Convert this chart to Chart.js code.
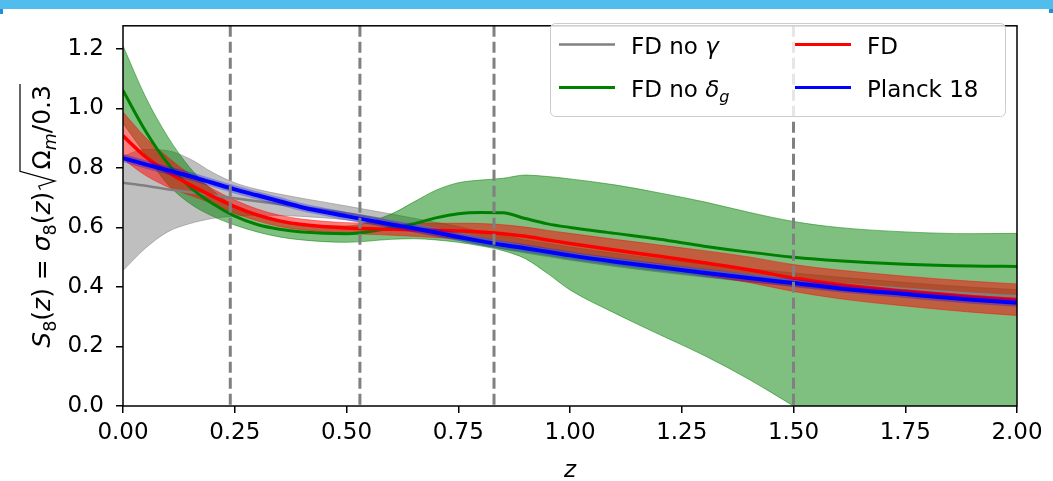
<!DOCTYPE html>
<html>
<head>
<meta charset="utf-8">
<script src="https://cdn.jsdelivr.net/npm/chart.js@4.4.1/dist/chart.umd.min.js"></script>
<style>
  html, body { margin: 0; padding: 0; background: #fff; overflow: hidden; }
  #wrap { position: relative; width: 1053px; height: 481px; }
  #c { position: absolute; left: 0; top: 0; }
  #topbar { position: absolute; left: 0; top: 0; width: 1053px; height: 9px; background: #50bdec; }
  #tabL { position: absolute; left: 0; top: 9px; width: 3px; height: 5px; background: #1f8fd6; }
  #tabR { position: absolute; left: 1049px; top: 9px; width: 4px; height: 4px; background: #1f8fd6; }
</style>
</head>
<body>
<div id="wrap">
  <canvas id="c" width="1053" height="481"></canvas>
  <div id="topbar"></div><div id="tabL"></div><div id="tabR"></div>
</div>
<script>
// Redshift grid shared by all curves
const zGrid = [0, 0.05, 0.1, 0.15, 0.2, 0.25, 0.3, 0.35, 0.4, 0.5, 0.6, 0.65, 0.7, 0.75,
               0.8, 0.85, 0.9, 0.95, 1.0, 1.1, 1.2, 1.3, 1.4, 1.5, 1.6, 1.75, 1.9, 2.0];

// FD no gamma: mean and band
const fdNoGamma   = [0.750, 0.740, 0.728, 0.718, 0.708, 0.698, 0.688, 0.678, 0.668, 0.648, 0.622, 0.608, 0.594, 0.580,
                     0.563, 0.549, 0.536, 0.524, 0.512, 0.491, 0.472, 0.455, 0.439, 0.425, 0.411, 0.393, 0.377, 0.369];
const fdNoGammaHi = [0.840, 0.862, 0.858, 0.830, 0.785, 0.750, 0.728, 0.712, 0.698, 0.672, 0.645, 0.631, 0.617, 0.603,
                     0.586, 0.572, 0.558, 0.546, 0.534, 0.513, 0.494, 0.477, 0.461, 0.447, 0.433, 0.415, 0.399, 0.391];
const fdNoGammaLo = [0.455, 0.530, 0.585, 0.613, 0.630, 0.638, 0.641, 0.640, 0.637, 0.625, 0.600, 0.586, 0.572, 0.558,
                     0.541, 0.527, 0.514, 0.502, 0.490, 0.469, 0.450, 0.433, 0.417, 0.403, 0.389, 0.371, 0.355, 0.347];

// FD no delta_g: mean and band (lower edge runs below the axis past z = 1.5)
const fdNoDelta   = [1.060, 0.925, 0.815, 0.735, 0.680, 0.638, 0.610, 0.594, 0.585, 0.579, 0.598, 0.612, 0.632, 0.646,
                     0.650, 0.649, 0.630, 0.612, 0.600, 0.580, 0.560, 0.537, 0.517, 0.500, 0.488, 0.476, 0.470, 0.469];
const fdNoDeltaHi = [1.210, 1.040, 0.905, 0.800, 0.725, 0.672, 0.638, 0.618, 0.607, 0.605, 0.645, 0.685, 0.725, 0.750,
                     0.759, 0.765, 0.776, 0.771, 0.763, 0.743, 0.716, 0.686, 0.651, 0.620, 0.600, 0.585, 0.579, 0.580];
const fdNoDeltaLo = [0.950, 0.845, 0.745, 0.680, 0.638, 0.608, 0.585, 0.568, 0.558, 0.550, 0.560, 0.562, 0.558, 0.550,
                     0.538, 0.522, 0.495, 0.445, 0.390, 0.312, 0.240, 0.170, 0.090, 0.000, -0.090, -0.200, -0.290, -0.340];

// FD: mean and band
const fd   = [0.908, 0.838, 0.786, 0.743, 0.705, 0.670, 0.642, 0.622, 0.610, 0.598, 0.594, 0.592, 0.590, 0.588,
              0.585, 0.579, 0.570, 0.558, 0.546, 0.524, 0.503, 0.481, 0.458, 0.430, 0.409, 0.386, 0.367, 0.357];
const fdHi = [0.988, 0.903, 0.836, 0.778, 0.730, 0.692, 0.662, 0.641, 0.628, 0.616, 0.614, 0.614, 0.614, 0.614,
              0.613, 0.609, 0.601, 0.590, 0.580, 0.560, 0.541, 0.522, 0.501, 0.475, 0.457, 0.436, 0.419, 0.410];
const fdLo = [0.830, 0.775, 0.736, 0.708, 0.680, 0.648, 0.622, 0.603, 0.592, 0.580, 0.574, 0.570, 0.566, 0.562,
              0.557, 0.549, 0.539, 0.526, 0.512, 0.488, 0.465, 0.440, 0.415, 0.385, 0.361, 0.336, 0.315, 0.304];

// Planck 18 prediction
const planck18 = [0.833, 0.812, 0.792, 0.772, 0.750, 0.728, 0.708, 0.688, 0.668, 0.638, 0.610, 0.597, 0.583, 0.568,
                  0.554, 0.541, 0.530, 0.518, 0.506, 0.485, 0.466, 0.448, 0.430, 0.413, 0.396, 0.376, 0.357, 0.347];

// Redshift bin edges (dashed lines)
const zBinEdges = [0.24, 0.53, 0.83, 1.5];

// Axis ticks
const xTicks = [0, 0.25, 0.5, 0.75, 1.0, 1.25, 1.5, 1.75, 2.0];
const yTicks = [0, 0.2, 0.4, 0.6, 0.8, 1.0, 1.2];

const FONT = '"DejaVu Sans", sans-serif';
const FS = 23;      // tick and legend text
const FS_Y = 25;    // y-axis title

const pts = arr => zGrid.map((z, i) => ({ x: z, y: arr[i] }));
const lineDs = (label, arr, color, width, order) => ({
  label, data: pts(arr), borderColor: color, borderWidth: width, fill: false,
  pointRadius: 0, order, cubicInterpolationMode: 'monotone'
});
const bandDs = (label, hi, lo, fillCol, edgeCol, order) => [
  { label: label + ' upper', data: pts(hi), borderColor: edgeCol, borderWidth: 1,
    backgroundColor: fillCol, fill: '+1', pointRadius: 0, order, cubicInterpolationMode: 'monotone' },
  { label: label + ' lower', data: pts(lo), borderColor: edgeCol, borderWidth: 1,
    fill: false, pointRadius: 0, order: order + 1, cubicInterpolationMode: 'monotone' }
];

// mathtext-like run drawing: parts of {t, it, sub}
function partFont(p, size) {
  const s = p.sub ? size * 0.7 : size;
  return (p.it ? 'italic ' : '') + s.toFixed(1) + 'px ' + FONT;
}
function runWidth(ctx, parts, size) {
  let w = 0;
  for (const p of parts) { ctx.font = partFont(p, size); w += ctx.measureText(p.t).width + (p.gap || 0); }
  return w;
}
function drawRun(ctx, parts, x, y, size) {
  for (const p of parts) {
    ctx.font = partFont(p, size);
    ctx.fillText(p.t, x, y + (p.sub ? size * 0.24 : 0));
    x += ctx.measureText(p.t).width + (p.gap || 0);
  }
  return x;
}

const legendItems = [
  { col: 0, row: 0, color: '#808080', width: 2.5, parts: [{ t: 'FD no ' }, { t: 'γ', it: true }] },
  { col: 0, row: 1, color: '#008000', width: 3, parts: [{ t: 'FD no ' }, { t: 'δ', it: true }, { t: 'g', it: true, sub: true }] },
  { col: 1, row: 0, color: '#ff0000', width: 3, parts: [{ t: 'FD' }] },
  { col: 1, row: 1, color: '#0000ff', width: 3, parts: [{ t: 'Planck 18' }] }
];

const decorations = {
  id: 'decorations',
  afterDatasetsDraw(chart) {
    const { ctx, chartArea: a, scales: { x } } = chart;
    ctx.save();
    // bin edges
    ctx.strokeStyle = '#808080';
    ctx.lineWidth = 3;
    ctx.setLineDash([11, 5]);
    for (const z of zBinEdges) {
      const px = x.getPixelForValue(z);
      ctx.beginPath(); ctx.moveTo(px, a.top); ctx.lineTo(px, a.bottom); ctx.stroke();
    }
    ctx.setLineDash([]);
    // frame
    ctx.strokeStyle = '#000';
    ctx.lineWidth = 1.5;
    ctx.strokeRect(a.left, a.top, a.right - a.left, a.bottom - a.top);
    ctx.restore();
  },
  afterDraw(chart) {
    const { ctx, chartArea: a } = chart;
    ctx.save();
    ctx.fillStyle = '#000';
    ctx.textBaseline = 'alphabetic';

    // x title
    ctx.textAlign = 'center';
    ctx.font = 'italic ' + FS + 'px ' + FONT;
    ctx.fillText('z', (a.left + a.right) / 2, 477);

    // y title: S_8(z) = sigma_8(z) sqrt(Omega_m/0.3)
    ctx.textAlign = 'left';
    const left = [
      { t: 'S', it: true }, { t: '8', sub: true }, { t: '(' }, { t: 'z', it: true }, { t: ')' },
      { t: ' = ' }, { t: 'σ', it: true }, { t: '8', sub: true }, { t: '(' }, { t: 'z', it: true }, { t: ')' }
    ];
    const inner = [{ t: 'Ω' }, { t: 'm', it: true, sub: true }, { t: '/0.3' }];
    const radW = FS_Y * 0.85;
    const wL = runWidth(ctx, left, FS_Y), wI = runWidth(ctx, inner, FS_Y);
    const total = wL + radW + wI + 2;
    ctx.translate(50, (a.top + a.bottom) / 2);
    ctx.rotate(-Math.PI / 2);
    let cx = -total / 2;
    cx = drawRun(ctx, left, cx, 0, FS_Y);
    // radical sign with overline
    const top = -FS_Y * 1.2;
    ctx.strokeStyle = '#000';
    ctx.lineWidth = 1.2;
    ctx.lineJoin = 'miter';
    ctx.beginPath();
    ctx.moveTo(cx + FS_Y * 0.08, -FS_Y * 0.38);
    ctx.lineTo(cx + FS_Y * 0.22, -FS_Y * 0.45);
    ctx.lineTo(cx + FS_Y * 0.42, FS_Y * 0.2);
    ctx.lineTo(cx + radW - 1, top);
    ctx.lineTo(cx + radW + wI + 2, top);
    ctx.stroke();
    drawRun(ctx, inner, cx + radW + 1, 0, FS_Y);
    ctx.restore();

    // legend
    ctx.save();
    const bx = 550.5, by = 23.5, bw = 455, bh = 93, r = 5;
    ctx.beginPath();
    ctx.moveTo(bx + r, by);
    ctx.arcTo(bx + bw, by, bx + bw, by + bh, r);
    ctx.arcTo(bx + bw, by + bh, bx, by + bh, r);
    ctx.arcTo(bx, by + bh, bx, by, r);
    ctx.arcTo(bx, by, bx + bw, by, r);
    ctx.closePath();
    ctx.fillStyle = 'rgba(255,255,255,0.8)';
    ctx.fill();
    ctx.strokeStyle = '#cccccc';
    ctx.lineWidth = 1;
    ctx.stroke();
    const colX = [559, 795], rowY = [44.5, 87.5], handleLen = 56, textGap = 16;
    ctx.fillStyle = '#000';
    ctx.textAlign = 'left';
    for (const it of legendItems) {
      const hx = colX[it.col], hy = rowY[it.row];
      ctx.strokeStyle = it.color;
      ctx.lineWidth = it.width;
      ctx.beginPath(); ctx.moveTo(hx, hy); ctx.lineTo(hx + handleLen, hy); ctx.stroke();
      drawRun(ctx, it.parts, hx + handleLen + textGap, hy + 9, FS);
    }
    ctx.restore();
  }
};

new Chart(document.getElementById('c'), {
  type: 'line',
  data: {
    datasets: [
      ...bandDs('FD no γ', fdNoGammaHi, fdNoGammaLo, 'rgba(128,128,128,0.5)', 'rgba(128,128,128,0.5)', 100),
      ...bandDs('FD no δg', fdNoDeltaHi, fdNoDeltaLo, 'rgba(0,128,0,0.5)', 'rgba(0,128,0,0.5)', 90),
      ...bandDs('FD', fdHi, fdLo, 'rgba(255,0,0,0.5)', 'rgba(255,0,0,0.45)', 80),
      lineDs('FD no γ', fdNoGamma, '#808080', 2.5, 40),
      lineDs('FD no δg', fdNoDelta, '#008000', 3, 30),
      lineDs('FD', fd, '#ff0000', 3.5, 20),
      lineDs('Planck 18 halo', planck18, 'rgba(0,0,255,0.3)', 8, 12),
      lineDs('Planck 18', planck18, '#0000ff', 4, 10)
    ]
  },
  options: {
    responsive: false,
    animation: false,
    devicePixelRatio: 1,
    layout: { padding: { top: 10, right: 36, left: 0, bottom: 0 } },
    plugins: { legend: { display: false }, tooltip: { enabled: false } },
    scales: {
      x: {
        type: 'linear', min: 0, max: 2,
        afterFit: s => { s.height = 75; },
        afterBuildTicks: s => { s.ticks = xTicks.map(v => ({ value: v })); },
        ticks: { callback: v => v.toFixed(2), font: { family: FONT, size: FS }, color: '#000',
                 padding: 6, maxRotation: 0, autoSkip: false },
        grid: { drawOnChartArea: false, drawTicks: true, tickLength: 7, color: '#000', lineWidth: 1.5 },
        border: { display: false }
      },
      y: {
        type: 'linear', min: 0, max: 1.2774,
        afterFit: s => { s.width = 123; },
        afterBuildTicks: s => { s.ticks = yTicks.map(v => ({ value: v })); },
        ticks: { callback: v => v.toFixed(1), font: { family: FONT, size: FS }, color: '#000',
                 padding: 12, autoSkip: false },
        grid: { drawOnChartArea: false, drawTicks: true, tickLength: 7, color: '#000', lineWidth: 1.5 },
        border: { display: false }
      }
    }
  },
  plugins: [decorations]
});
</script>
</body>
</html>
